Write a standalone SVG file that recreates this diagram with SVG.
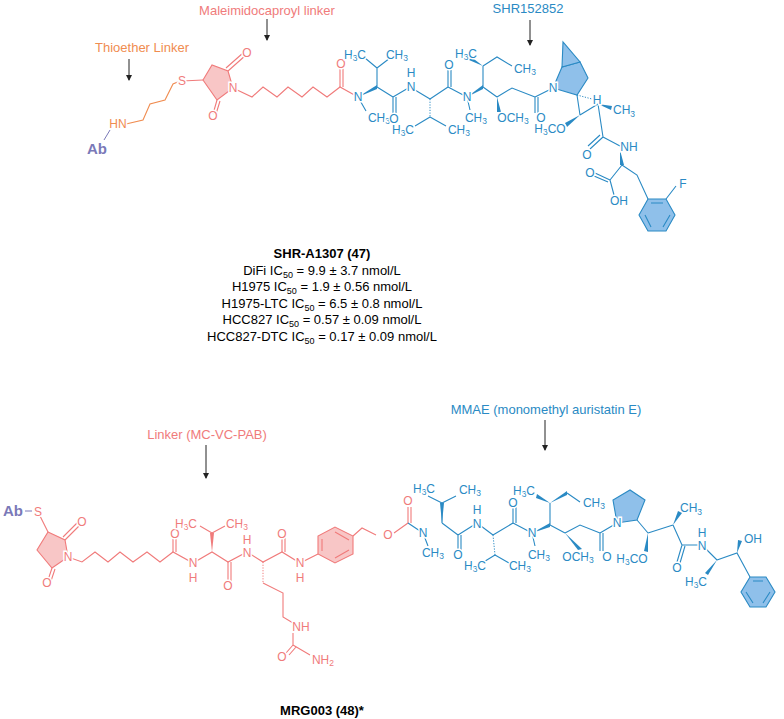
<svg xmlns="http://www.w3.org/2000/svg" width="784" height="719" viewBox="0 0 784 719">
<style>
text{font-family:"Liberation Sans",Arial,sans-serif;font-size:12px}
.a{text-anchor:middle;dominant-baseline:central;stroke:#fff;stroke-width:3px;paint-order:stroke}
.b{fill:none;stroke:#2a8ac4;stroke-width:1.1}
.r{fill:none;stroke:#f07b7b;stroke-width:1.1}
.o{fill:none;stroke:#f08c50;stroke-width:1.1}
.tb{fill:#2a8ac4}.tr{fill:#f07b7b}.to{fill:#f08c50}.tp{fill:#7a79b8;font-weight:bold;font-size:15px}
.w{fill:#2a8ac4}.wr{fill:#f07b7b}
.hs{stroke:#2a8ac4;stroke-width:1;stroke-dasharray:1.2 1.5}
.hr{stroke:#f07b7b;stroke-width:1;stroke-dasharray:1.2 1.5}
.fb{fill:#8fc0ea;stroke:#2a8ac4;stroke-width:1.1}
.fr{fill:#f8c6c6;stroke:#f07b7b;stroke-width:1.1}
.t{font-size:13px;text-anchor:middle}
.s{font-size:8.5px}
.ar{stroke:#222;stroke-width:1}
</style>
<defs><marker id="m" markerWidth="6" markerHeight="6" refX="5" refY="3" orient="auto"><path d="M0,0L6,3L0,6z" fill="#222"/></marker></defs>

<g id="labels">
<text x="142" y="52" class="t to">Thioether Linker</text>
<text x="267" y="15" class="t tr">Maleimidocaproyl linker</text>
<text x="528" y="13" class="t tb">SHR152852</text>
<text x="207" y="439" class="t tr">Linker (MC-VC-PAB)</text>
<text x="546" y="414" class="t tb">MMAE (monomethyl auristatin E)</text>
</g>
<g id="connectors">
<line x1="129" y1="59" x2="129" y2="80" class="ar" marker-end="url(#m)"/>
<line x1="267" y1="19" x2="267" y2="40" class="ar" marker-end="url(#m)"/>
<line x1="530" y1="20" x2="530" y2="45" class="ar" marker-end="url(#m)"/>
<line x1="206" y1="445" x2="206" y2="478" class="ar" marker-end="url(#m)"/>
<line x1="545" y1="420" x2="545" y2="450" class="ar" marker-end="url(#m)"/>
</g>

<g id="shr-a1307">
<line x1="104" y1="140" x2="110" y2="130" stroke="#7a79b8"/>
<polyline class="o" points="126,124 143,120 150,104 165,100 173,84 180,81"/>
<line class="r" x1="182" y1="81" x2="203" y2="80"/>
<polygon class="fr" points="203,80 212,65 228,71 233,88 217,100"/>
<path class="r" d="M228,71L246,55M226,68L243,53M217,100L213,114M220,101L216,114"/>
<polyline class="r" points="233,88 252,97 263,87 277,97 288,87 302,97 313,87 327,97 340,87 358,97"/>
<path class="r" d="M340,87V66M343,87V66"/>
<path class="b" d="M358,97L366,111M377,87V68M377,68L365,58M377,68L390,58M377,87L393,97M393,97V113M396,97V113M393,97L410,87M410,87L430,99M430,117L415,126M430,117L446,126M430,99L448,87M448,87V70M451,87V70M448,87L467,97M467,97L470,110M483,87V66M483,66L497,57L512,66M483,87L497,97M497,97L512,88L535,97M535,97V113M538,97V113M535,97L553,88"/>
<polygon class="w" points="358,97 377,85 377,89"/>
<line class="hs" x1="430" y1="99" x2="430" y2="117" stroke-width="4"/>
<polygon class="w" points="467,97 483,85 483,89"/>
<polygon class="w" points="483,66 470,56 469,60"/>
<polygon class="w" points="497,97 497,112 501,112"/>
<polygon class="fb" points="553,88 562,67 580,62 588,78 577,95"/>
<polygon class="fb" points="562,67 563,42 580,62"/>
<line class="hs" x1="577" y1="95" x2="592" y2="99" stroke-width="4"/>
<path class="b" d="M577,95L580,115M580,115L598,104M598,104L603,137M603,137L590,149M600,135L588,146M603,137L620,146M622,165L610,180M610,180L595,173M608,182L594,176M610,180L614,195M622,165L637,175L648,199M666,199L676,186"/>
<polygon class="w" points="580,115 565,123 567,127"/>
<polygon class="w" points="598,104 612,106 611,110"/>
<polygon class="w" points="620,150 620,165 624,165"/>
<polygon class="fb" points="648,199 666,199 675,215 666,231 648,231 639,215"/>
<path class="b" d="M651,203H663M670,215L663,227M645,215L651,227"/>
<text x="97" y="148" class="a tp">Ab</text>
<text x="118" y="124" class="a to">HN</text>
<text x="182" y="81" class="a tr">S</text>
<text x="233" y="88" class="a tr">N</text>
<text x="247" y="53" class="a tr">O</text>
<text x="213" y="116" class="a tr">O</text>
<text x="341" y="64" class="a tr">O</text>
<text x="358" y="97" class="a tb">N</text>
<text x="379" y="118" class="a tb">CH<tspan class="s" dy="3">3</tspan></text>
<text x="355" y="55" class="a tb">H<tspan class="s" dy="3">3</tspan><tspan dy="-3">C</tspan></text>
<text x="397" y="55" class="a tb">CH<tspan class="s" dy="3">3</tspan></text>
<text x="394" y="119" class="a tb">O</text>
<text x="411" y="87" class="a tb">N</text>
<text x="411" y="73" class="a tb">H</text>
<text x="403" y="130" class="a tb">H<tspan class="s" dy="3">3</tspan><tspan dy="-3">C</tspan></text>
<text x="459" y="130" class="a tb">CH<tspan class="s" dy="3">3</tspan></text>
<text x="449" y="65" class="a tb">O</text>
<text x="467" y="97" class="a tb">N</text>
<text x="476" y="118" class="a tb">CH<tspan class="s" dy="3">3</tspan></text>
<text x="466" y="54" class="a tb">H<tspan class="s" dy="3">3</tspan><tspan dy="-3">C</tspan></text>
<text x="525" y="69" class="a tb">CH<tspan class="s" dy="3">3</tspan></text>
<text x="513" y="118" class="a tb">OCH<tspan class="s" dy="3">3</tspan></text>
<text x="541" y="118" class="a tb">O</text>
<text x="553" y="88" class="a tb">N</text>
<text x="597" y="100" class="a tb" font-size="10">H</text>
<text x="550" y="129" class="a tb">H<tspan class="s" dy="3">3</tspan><tspan dy="-3">CO</tspan></text>
<text x="613" y="114" fill="#2a8ac4">CH<tspan font-size="8.5" dy="3">3</tspan></text>
<text x="587" y="155" class="a tb">O</text>
<text x="629" y="147" class="a tb">NH</text>
<text x="590" y="173" class="a tb">O</text>
<text x="619" y="201" class="a tb">OH</text>
<text x="683" y="184" class="a tb">F</text>
</g>

<g id="caption1">
<text x="322" y="258" class="t" font-weight="bold">SHR-A1307 (47)</text>
<text x="322" y="275" class="t">DiFi IC<tspan font-size="9" dy="3">50</tspan><tspan dy="-3"> = 9.9 ± 3.7 nmol/L</tspan></text>
<text x="322" y="291" class="t">H1975 IC<tspan font-size="9" dy="3">50</tspan><tspan dy="-3"> = 1.9 ± 0.56 nmol/L</tspan></text>
<text x="322" y="308" class="t">H1975-LTC  IC<tspan font-size="9" dy="3">50</tspan><tspan dy="-3"> = 6.5 ± 0.8 nmol/L</tspan></text>
<text x="322" y="324" class="t">HCC827 IC<tspan font-size="9" dy="3">50</tspan><tspan dy="-3"> = 0.57 ± 0.09 nmol/L</tspan></text>
<text x="322" y="341" class="t">HCC827-DTC IC<tspan font-size="9" dy="3">50</tspan><tspan dy="-3"> = 0.17 ± 0.09  nmol/L</tspan></text>
</g>

<g id="mrg003">
<line class="r" x1="38" y1="512" x2="48" y2="532"/>
<line x1="25" y1="511" x2="32" y2="511" stroke="#7a79b8"/>
<polygon class="fr" points="48,532 65,540 68,557 52,568 37,550"/>
<path class="r" d="M65,540L80,525M63,537L78,522M52,568L48,580M55,569L51,581"/>
<polyline class="r" points="68,557 82,562 95,552 108,562 120,552 133,562 147,552 160,562 173,552 193,563 212,552 228,562 247,552 263,562 282,552 300,563 318,554"/>
<path class="r" d="M173,552V537M176,552V537M212,533L200,526M212,533L225,526M228,562V582M231,562V582M282,552V537M285,552V537M263,583L283,593L283,617L293,623M293,633V645M293,645L286,653M296,647L289,655M293,645L310,655M353,536L362,528L376,535"/>
<polygon class="wr" points="212,552 210,533 214,533"/>
<line class="hr" x1="263" y1="562" x2="263" y2="583" stroke-width="4"/>
<polygon class="fr" points="318,536 318,554 335,563 353,554 353,536 335,527"/>
<path class="r" d="M322,539V551M335,558L349,550M335,532L349,540"/>
<path class="r" d="M394,533L408,523M408,523V507M411,523V507"/>
<path class="b" d="M408,523L423,533M423,533L428,546M442,523V503M442,503L428,496M442,503L456,496M442,523L458,535M458,535V551M461,535V551M458,535L477,523M477,523L493,535M495,555L482,563M495,555L509,563M493,535L513,523M513,523V507M516,523V507M513,523L532,533M532,533L535,546M550,525V503M567,493L580,502M550,525L565,533M565,533L580,525L600,533M600,533V551M603,533V551M600,533L617,523M637,520L648,533M648,533L673,525M673,525L682,545M682,545L677,562M685,546L680,563M682,545L702,545M702,545L717,560M717,560L737,553L750,577"/>
<polygon class="w" points="442,523 440,503 444,503"/>
<line class="hs" x1="493" y1="535" x2="495" y2="555" stroke-width="4"/>
<polygon class="w" points="532,533 550,523 550,527"/>
<polygon class="w" points="550,503 537,494 536,498"/>
<polygon class="w" points="550,503 567,491 567,495"/>
<polygon class="w" points="565,533 578,550 582,549"/>
<polygon class="fb" points="617,523 613,500 630,490 645,500 637,520"/>
<polygon class="w" points="648,533 644,551 648,552"/>
<polygon class="w" points="673,525 678,511 682,513"/>
<polygon class="w" points="717,560 705,573 708,575"/>
<polygon class="w" points="737,553 738,540 742,541"/>
<polygon class="fb" points="750,577 766,577 775,592 766,607 750,607 741,592"/>
<path class="b" d="M753,581H763M770,592L763,603M746,592L753,603"/>
<text x="13" y="510" class="a tp">Ab</text>
<text x="38" y="512" class="a tr">S</text>
<text x="68" y="557" class="a tr">N</text>
<text x="82" y="522" class="a tr">O</text>
<text x="47" y="583" class="a tr">O</text>
<text x="175" y="534" class="a tr">O</text>
<text x="193" y="563" class="a tr">N</text>
<text x="193" y="578" class="a tr">H</text>
<text x="186" y="524" class="a tr">H<tspan class="s" dy="3">3</tspan><tspan dy="-3">C</tspan></text>
<text x="237" y="524" class="a tr">CH<tspan class="s" dy="3">3</tspan></text>
<text x="228" y="586" class="a tr">O</text>
<text x="247" y="553" class="a tr">N</text>
<text x="247" y="540" class="a tr">H</text>
<text x="282" y="534" class="a tr">O</text>
<text x="300" y="563" class="a tr">N</text>
<text x="300" y="578" class="a tr">H</text>
<text x="301" y="627" class="a tr">NH</text>
<text x="282" y="657" class="a tr">O</text>
<text x="323" y="660" class="a tr">NH<tspan class="s" dy="3">2</tspan></text>
<text x="388" y="535" class="a tr">O</text>
<text x="408" y="501" class="a tr">O</text>
<text x="423" y="533" class="a tb">N</text>
<text x="433" y="553" class="a tb">CH<tspan class="s" dy="3">3</tspan></text>
<text x="424" y="489" class="a tb">H<tspan class="s" dy="3">3</tspan><tspan dy="-3">C</tspan></text>
<text x="470" y="490" class="a tb">CH<tspan class="s" dy="3">3</tspan></text>
<text x="458" y="555" class="a tb">O</text>
<text x="477" y="524" class="a tb">N</text>
<text x="477" y="510" class="a tb">H</text>
<text x="475" y="566" class="a tb">H<tspan class="s" dy="3">3</tspan><tspan dy="-3">C</tspan></text>
<text x="520" y="566" class="a tb">CH<tspan class="s" dy="3">3</tspan></text>
<text x="513" y="503" class="a tb">O</text>
<text x="532" y="533" class="a tb">N</text>
<text x="539" y="555" class="a tb">CH<tspan class="s" dy="3">3</tspan></text>
<text x="524" y="491" class="a tb">H<tspan class="s" dy="3">3</tspan><tspan dy="-3">C</tspan></text>
<text x="594" y="503" class="a tb">CH<tspan class="s" dy="3">3</tspan></text>
<text x="578" y="557" class="a tb">OCH<tspan class="s" dy="3">3</tspan></text>
<text x="607" y="557" class="a tb">O</text>
<text x="617" y="523" class="a tb">N</text>
<text x="632" y="559" class="a tb">H<tspan class="s" dy="3">3</tspan><tspan dy="-3">CO</tspan></text>
<text x="680" y="512" fill="#2a8ac4">CH<tspan font-size="8.5" dy="3">3</tspan></text>
<text x="677" y="568" class="a tb">O</text>
<text x="702" y="546" class="a tb">N</text>
<text x="702" y="533" class="a tb">H</text>
<text x="696" y="582" class="a tb">H<tspan class="s" dy="3">3</tspan><tspan dy="-3">C</tspan></text>
<text x="753" y="539" class="a tb">OH</text>
</g>
<text x="322" y="715" class="t" font-weight="bold">MRG003 (48)*</text>
</svg>
